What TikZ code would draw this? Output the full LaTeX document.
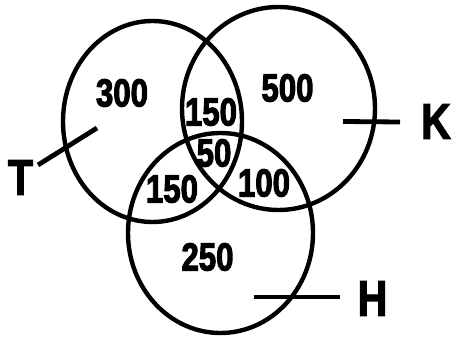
\documentclass[tikz,border=0pt]{standalone}
\usepackage{fontspec}
\setmainfont{Liberation Sans}
\newcommand\heavytxt[1]{\special{pdf:literal direct 1.2 w 2 Tr}#1\special{pdf:literal direct 0 Tr}}
\begin{document}
\begin{tikzpicture}[x=1pt,y=-1pt,
  ring/.style={draw=black,line width=4.4pt},
  lead/.style={draw=black,line width=4.8pt},
  num/.style={font=\fontsize{39}{39}\selectfont\bfseries,inner sep=0pt,xscale=0.8},
  setlabel/.style={font=\fontsize{50}{50}\selectfont\bfseries,inner sep=0pt,xscale=0.82}]
\useasboundingbox (0,0) rectangle (454,339);
\fill[white] (0,0) rectangle (454,339);
% circles
\draw[ring] (152.5,121.5) ellipse [x radius=89.5pt, y radius=100.5pt];
\draw[ring] (278.5,108.5) ellipse [x radius=96.5pt, y radius=101.5pt];
\draw[ring] (220.5,233) ellipse [x radius=92.5pt, y radius=100pt];
% numbers
\node[num] (n300) at (122,93) {\heavytxt{300}};
\node[num] (n500) at (287.5,88) {\heavytxt{500}};
\node[num] (n150a) at (211,112) {\heavytxt{150}};
\node[num] (n50) at (214,153) {\heavytxt{50}};
\node[num] (n150b) at (172,189) {\heavytxt{150}};
\node[num] (n100) at (264,183) {\heavytxt{100}};
\node[num] (n250) at (207.5,257) {\heavytxt{250}};
% set labels
\node[setlabel] (T) at (20.5,177.5) {\heavytxt{T}};
\node[setlabel] (K) at (436,121.5) {\heavytxt{K}};
\node[setlabel] (H) at (372.5,298.5) {\heavytxt{H}};
% leader lines
\coordinate (t1) at (38,165);
\coordinate (t2) at (97,128);
\coordinate (k1) at (343,121.5);
\coordinate (k2) at (400,122);
\coordinate (h1) at (254,297);
\coordinate (h2) at (340,297);
\draw[lead] (t1) -- (t2);
\draw[lead] (k1) -- (k2);
\draw[lead] (h1) -- (h2);
\end{tikzpicture}
\end{document}
